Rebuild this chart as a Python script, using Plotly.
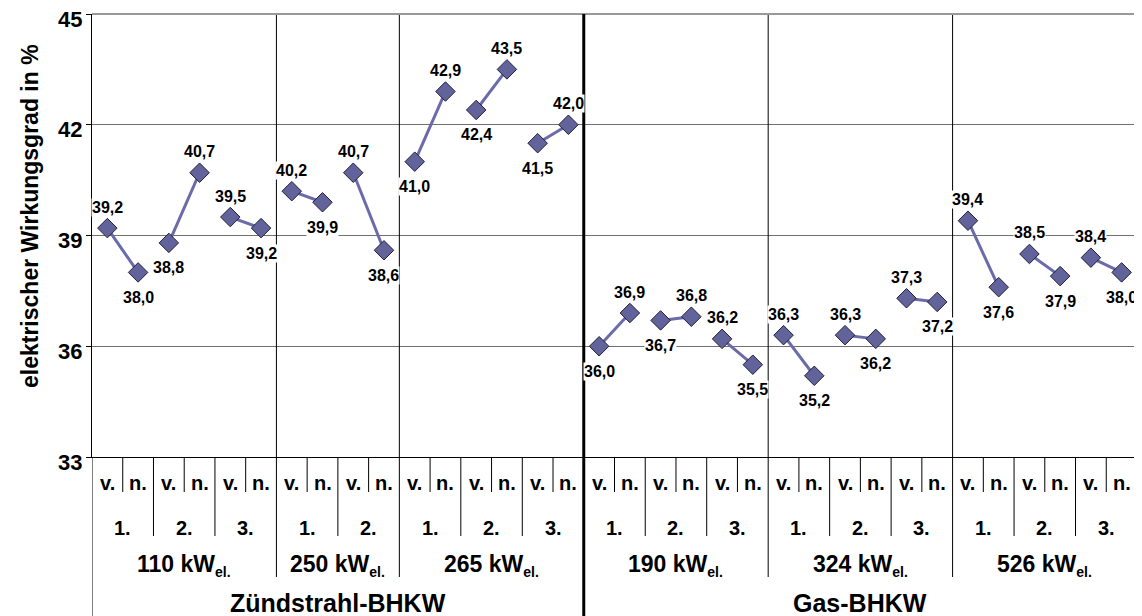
import plotly.graph_objects as go

# Anlagen und Messungen
gruppen = ["Zündstrahl-BHKW", "Gas-BHKW"]
leistung = ["110", "250", "265", "190", "324", "526"]
leistung_gruppe = [0, 0, 0, 1, 1, 1]
messungen = [3, 2, 3, 3, 3, 3]

# Wirkungsgrad vorher (v.) / nachher (n.), je Messung
vorher = [39.2, 38.8, 39.5, 40.2, 40.7, 41.0, 42.4, 41.5,
          36.0, 36.7, 36.2, 36.3, 36.3, 37.3, 39.4, 38.5, 38.4]
nachher = [38.0, 40.7, 39.2, 39.9, 38.6, 42.9, 43.5, 42.0,
           36.9, 36.8, 35.5, 35.2, 36.2, 37.2, 37.6, 37.9, 38.0]

y_ticks = [33, 36, 39, 42, 45]

FONT = "Arial, Liberation Sans, sans-serif"
# page body has an 8px margin, so the figure is drawn 8px in from the corner
W, H = 1134, 608
PLOT_LEFT, PLOT_RIGHT = 84, 1129
PLOT_TOP, PLOT_BOTTOM = 6, 449
PLOT_H = PLOT_BOTTOM - PLOT_TOP
PLOT_W = PLOT_RIGHT - PLOT_LEFT


def py(p):
    # pixel row (figure) -> paper coordinate
    return (PLOT_BOTTOM - p) / PLOT_H


def px_(p):
    return (p - PLOT_LEFT) / PLOT_W


n_pairs = len(vorher)
xs, ys = [], []
for i in range(n_pairs):
    xs += [2 * i, 2 * i + 1, None]
    ys += [vorher[i], nachher[i], None]

fig = go.Figure()
fig.add_trace(go.Scatter(
    x=xs, y=ys, mode="lines+markers",
    line=dict(color="#6B6BAA", width=3),
    marker=dict(symbol="diamond", size=15, color="#62639B",
                line=dict(color="#20203a", width=1)),
    hoverinfo="skip", showlegend=False))

annotations = []
lbl_font = dict(family=FONT, size=16, color="black", weight="bold")
for i in range(n_pairs):
    v, n = vorher[i], nachher[i]
    for x, val, other in [(2 * i, v, n), (2 * i + 1, n, v)]:
        above = val >= other
        annotations.append(dict(
            x=x, y=val, xref="x", yref="y", showarrow=False,
            text=f"{val:.1f}".replace(".", ","), font=lbl_font,
            bgcolor="white", borderpad=0,
            yshift=21 if above else -25))

# y tick labels (sit a little below their gridline as in the original)
for t in y_ticks:
    annotations.append(dict(x=px_(76), y=t, xref="paper", yref="y", showarrow=False,
                            xanchor="right", yanchor="middle", yshift=-5, text=str(t),
                            font=dict(family=FONT, size=22, color="black", weight="bold")))

shapes = []
line_blk = dict(color="black", width=1)


def mid(y):
    return dict(y=py(y), yanchor="middle", xanchor="center")


# Tabelle unter der Achse
row_font = dict(family=FONT, size=20, color="black", weight="bold")
for k in range(2 * n_pairs):
    annotations.append(dict(x=k, xref="x", yref="paper", showarrow=False,
                            text="v." if k % 2 == 0 else "n.", font=row_font, **mid(475)))
for i in range(n_pairs):
    shapes.append(dict(type="line", xref="x", yref="paper", x0=2 * i + 0.5, x1=2 * i + 0.5,
                       y0=py(449), y1=py(484), line=line_blk))

pos = 0
for g, cnt in enumerate(messungen):
    start = pos
    for m in range(cnt):
        annotations.append(dict(x=2 * pos + 0.5, xref="x", yref="paper",
                                showarrow=False, text=f"{m + 1}.", font=row_font, **mid(520)))
        if m > 0:
            shapes.append(dict(type="line", xref="x", yref="paper", x0=2 * pos - 0.5,
                               x1=2 * pos - 0.5, y0=py(449), y1=py(528), line=line_blk))
        pos += 1
    annotations.append(dict(x=(2 * start + 2 * pos - 1) / 2, xref="x", yref="paper",
                            showarrow=False,
                            text=f"{leistung[g]} kW<sub><span style='font-size:14px'>el.</span></sub>",
                            font=dict(family=FONT, size=23, color="black", weight="bold"),
                            **mid(557)))
    if 0 < g and leistung_gruppe[g] == leistung_gruppe[g - 1]:
        shapes.append(dict(type="line", xref="x", yref="paper", x0=2 * start - 0.5,
                           x1=2 * start - 0.5, y0=py(PLOT_TOP), y1=py(569), line=line_blk))

# Hauptgruppen
pos = 0
grenzen = []
for gi, name in enumerate(gruppen):
    n_g = sum(c for c, lg in zip(messungen, leistung_gruppe) if lg == gi)
    annotations.append(dict(x=(2 * pos + 2 * (pos + n_g) - 1) / 2, xref="x",
                            yref="paper", showarrow=False, text=name,
                            font=dict(family=FONT, size=25, color="black", weight="bold"),
                            **mid(595)))
    pos += n_g
    grenzen.append(2 * pos - 0.5)

shapes.append(dict(type="line", xref="paper", yref="paper", x0=0, x1=1,
                   y0=1, y1=1, line=dict(color="#999999", width=2)))
shapes.append(dict(type="line", xref="x", yref="paper", x0=-0.5, x1=-0.5,
                   y0=py(449), y1=py(608), line=line_blk))
shapes.append(dict(type="line", xref="x", yref="paper", x0=grenzen[0], x1=grenzen[0],
                   y0=py(PLOT_TOP), y1=py(608), line=dict(color="black", width=3)))
shapes.append(dict(type="line", xref="x", yref="paper", x0=grenzen[1], x1=grenzen[1],
                   y0=py(PLOT_TOP), y1=py(449), line=dict(color="#999999", width=2)))
shapes.append(dict(type="line", xref="x", yref="paper", x0=grenzen[1], x1=grenzen[1],
                   y0=py(449), y1=py(608), line=line_blk))

annotations.append(dict(x=px_(22), y=py(208), xref="paper", yref="paper",
                        xanchor="center", yanchor="middle",
                        showarrow=False, text="elektrischer Wirkungsgrad in %", textangle=-90,
                        font=dict(family=FONT, size=23, color="black", weight="bold")))

fig.update_layout(
    width=W, height=H,
    margin=dict(l=PLOT_LEFT, r=W - PLOT_RIGHT, t=PLOT_TOP, b=H - PLOT_BOTTOM),
    paper_bgcolor="white", plot_bgcolor="white",
    shapes=shapes, annotations=annotations,
    xaxis=dict(range=[-0.5, 2 * n_pairs - 0.5], showticklabels=False, showgrid=False,
               zeroline=False, showline=True, linecolor="black", linewidth=1, fixedrange=True),
    yaxis=dict(range=[33, 45], tickvals=y_ticks, showgrid=True, showticklabels=False,
               gridcolor="#707070", gridwidth=1, zeroline=False, showline=True,
               linecolor="black", linewidth=1, ticks="outside", ticklen=5, tickcolor="black",
               fixedrange=True),
)

fig.write_html("out.html")
